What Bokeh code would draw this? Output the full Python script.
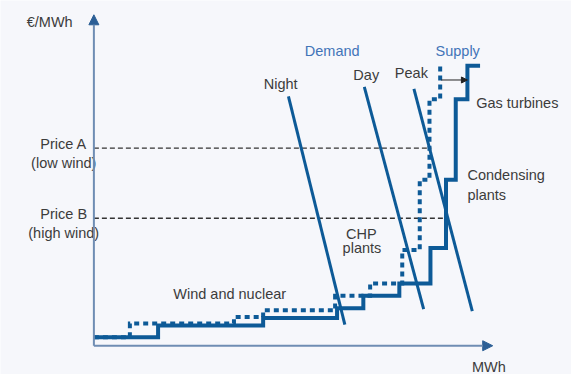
from bokeh.plotting import figure
from bokeh.models import Range1d, Arrow, NormalHead
from bokeh.embed import file_html
from bokeh.resources import INLINE
from bokeh.core.properties import value

# ---- data (schematic units: MWh on x, EUR/MWh on y) ----
# Supply curve, high wind (solid): step start quantities and price levels
supply_high_x = [0, 16.5, 43.5, 62.5, 69.25, 78.5, 86.5, 90.5, 93, 96, 99.25]
supply_high_y = [2.6, 6.2, 8.5, 11.5, 15.3, 19.1, 30.0, 50.9, 75.6, 85.9, 85.9]
# Supply curve, low wind (dotted)
supply_low_x = [0, 9.25, 36, 43.5, 62, 71, 79.25, 83.75, 86.25, 89]
supply_low_y = [2.6, 6.8, 8.8, 10.9, 15.3, 19.1, 29.4, 50.9, 75.6, 85.9]

# Demand curves
demand_names = ["Night", "Day", "Peak"]
demand_x0 = [50, 69.5, 82.25]
demand_y0 = [76.5, 79.4, 78.8]
demand_x1 = [64.5, 84.75, 97.25]
demand_y1 = [6.5, 11.2, 10.6]

# Price levels
price_names = ["Price A", "Price B"]
price_notes = ["(low wind)", "(high wind)"]
price_values = [60.6, 39.1]
price_x_end = [86.75, 90.5]

# Shift of supply (low wind -> high wind) at gas turbine level
shift_price = 81.5
shift_from = 89.25
shift_to = 96

X_MAX = 102.5
Y_MAX = 101.5

BLUE = "#0d5a97"
TEXT = "#3c3c3c"
LABEL_BLUE = "#4274b8"
AXIS = "#6f8db3"
AXIS_HEAD = "#2c5f96"
BG = "#f6f7fb"
FONT = value("Liberation Sans")
FS = "14.5px"

p = figure(width=571, height=374, x_range=Range1d(-24, 122.75), y_range=Range1d(-8.82, 105.88),
           output_backend="svg", toolbar_location=None, min_border=0,
           x_axis_type=None, y_axis_type=None)
p.grid.visible = False
p.outline_line_color = None
p.background_fill_color = BG
p.border_fill_color = BG

# price dashed lines
p.segment(x0=[0, 0], y0=price_values, x1=price_x_end, y1=price_values,
          line_color="#333333", line_width=1.3, line_dash="5 3")

# demand lines
p.segment(x0=demand_x0, y0=demand_y0, x1=demand_x1, y1=demand_y1,
          line_color=BLUE, line_width=3)

# supply curves
p.step(supply_low_x, supply_low_y, mode="after", line_color=BLUE, line_width=4,
       line_dash="5 4", line_join="miter")
p.step(supply_high_x, supply_high_y, mode="after", line_color=BLUE, line_width=4,
       line_join="miter")

# axes with arrows
p.add_layout(Arrow(end=NormalHead(size=10, fill_color=AXIS_HEAD, line_color=AXIS_HEAD),
                   x_start=0, y_start=0, x_end=0, y_end=Y_MAX, line_color=AXIS, line_width=2))
p.add_layout(Arrow(end=NormalHead(size=10, fill_color=AXIS_HEAD, line_color=AXIS_HEAD),
                   x_start=0, y_start=0, x_end=X_MAX, y_end=0, line_color=AXIS, line_width=2))

# supply shift arrow
p.add_layout(Arrow(end=NormalHead(size=6, fill_color="#222222", line_color="#222222"),
                   x_start=shift_from, y_start=shift_price, x_end=shift_to, y_end=shift_price,
                   line_color="#222222", line_width=1))

# axis titles
p.text(x=[-17.25], y=[99.4], text=["€/MWh"], text_font=FONT, text_font_size=FS,
       text_color=TEXT, text_align="left", text_baseline="middle")
p.text(x=[101.5], y=[-6.4], text=["MWh"], text_font=FONT, text_font_size=FS,
       text_color=TEXT, text_align="center", text_baseline="middle")

# price labels
p.text(x=[-7.75, -7.75], y=[v + 1.2 for v in price_values], text=price_names, text_font=FONT,
       text_font_size=FS, text_color=TEXT, text_align="center", text_baseline="middle")
p.text(x=[-7.75, -7.75], y=[v - 4.5 for v in price_values], text=price_notes, text_font=FONT,
       text_font_size=FS, text_color=TEXT, text_align="center", text_baseline="middle")

# demand labels
p.text(x=[48, 70, 81.6], y=[80.3, 82.9, 83.5], text=demand_names, text_font=FONT,
       text_font_size=FS, text_color=TEXT, text_align="center", text_baseline="middle")
p.text(x=[61.25, 93.5], y=[90.3, 90.3], text=["Demand", "Supply"], text_font=FONT,
       text_font_size=FS, text_color=LABEL_BLUE, text_align="center", text_baseline="middle")

# plant labels
p.text(x=[98.25, 96, 96], y=[74.4, 52.4, 46.2], text=["Gas turbines", "Condensing", "plants"],
       text_font=FONT, text_font_size=FS, text_color=TEXT, text_align="left", text_baseline="middle")
p.text(x=[68.75, 68.9, 34.9], y=[34.4, 30.0, 15.9], text=["CHP", "plants", "Wind and nuclear"],
       text_font=FONT, text_font_size=FS, text_color=TEXT, text_align="center", text_baseline="middle")

open("out.html", "w").write(file_html(p, INLINE))
